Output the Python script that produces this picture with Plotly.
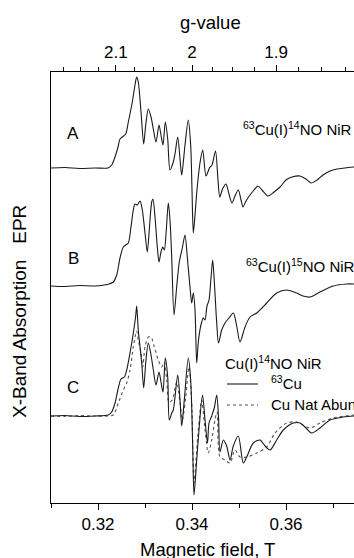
import numpy as np
import plotly.graph_objects as go

# ---------------- data (field in mT, intensity in arbitrary units) ----------------
field_A = [310.0, 313.0, 316.0, 319.36, 322.13, 322.91, 323.62, 324.26, 324.68, 325.17, 325.89,
           326.45, 327.30, 327.87, 328.23, 328.57, 329.15, 329.72, 330.15, 330.70, 331.28,
           331.77, 332.34, 332.98, 333.40, 333.83, 334.32, 334.83, 335.32, 336.02, 336.38,
           336.96, 337.45, 337.81, 338.51, 339.21, 339.72, 340.00, 340.28, 340.64, 341.06,
           341.70, 342.28, 342.98, 343.72, 344.26, 345.00, 345.53, 345.91, 346.49, 347.23,
           347.87, 348.51, 349.15, 349.85, 350.43, 350.85, 351.49, 352.34, 353.19, 354.04,
           354.89, 356.17, 357.45, 358.72, 360.00, 361.28, 362.98, 364.26, 365.32, 366.60,
           367.87, 369.36, 370.85, 372.55, 374.47]
int_A = [0, 0.5, -0.5, 0, 0, 3, 11, 21, 29, 31, 34,
         46, 66, 83, 91, 86, 56, 24, 43, 59, 51,
         39, 26, 43, 33, 23, 46, 29, -2, 6, 14,
         31, 9, -7, 23, 48, 23, -22, -65, -47, -22,
         5, 18, -8, 0, 3, 17, -12, -29, -21, -16,
         -26, -35, -28, -22, -32, -39, -33, -27, -22, -18,
         -22, -28, -24, -19, -12, -9, -8, -11, -15, -12,
         -7, -3, -1, 0, 1]

field_B = [310.0, 313.0, 316.0, 319.36, 322.19, 323.26, 323.98, 324.68, 325.38, 325.89, 326.45,
           327.02, 327.51, 327.87, 328.36, 328.94, 329.43, 330.00, 330.49, 330.91, 331.43,
           331.70, 332.13, 332.62, 332.98, 333.40, 333.77, 334.11, 334.53, 334.96, 335.32,
           335.68, 336.17, 336.74, 337.30, 337.94, 338.51, 339.00, 339.57, 339.94, 340.28,
           340.64, 341.00, 341.38, 342.06, 342.40, 342.77, 343.19, 343.62, 344.04, 344.40,
           344.79, 345.26, 345.64, 346.32, 347.02, 347.87, 348.79, 349.51, 350.21, 351.28,
           352.34, 353.77, 354.89, 355.89, 358.02, 360.15, 362.28, 363.62, 365.11, 367.23,
           370.06, 372.91, 374.47]
int_B = [0, -0.5, 0.5, 0, 1.7, 4, 11, 28, 39, 41, 43,
         59, 76, 82, 81, 85, 76, 53, 34, 56, 84,
         87, 69, 39, 24, 34, 39, 36, 56, 83, 66,
         29, -29, -1, 24, 38, 51, 29, -1, -17, -7,
         -24, -77, -54, -36, -32, -34, -20, -14, 8, 26,
         1, -37, -57, -44, -37, -32, -27, -40, -56, -41,
         -31, -27, -22, -17, -7, -4, -7, -10, -11, -6,
         0, 2, 2]

field_C = [310.0, 313.0, 316.0, 319.36, 322.19, 322.91, 323.62, 324.32, 324.89, 325.60, 326.11,
           326.81, 327.51, 328.02, 328.23, 328.57, 329.30, 329.72, 330.15, 330.70, 331.21,
           331.77, 332.34, 332.98, 333.40, 333.83, 334.32, 334.83, 335.17, 335.68, 336.02,
           336.96, 337.45, 337.81, 338.36, 339.21, 339.72, 340.15, 340.43, 341.00, 341.49,
           342.23, 342.77, 343.30, 343.62, 344.19, 344.74, 345.26, 345.64, 345.96, 346.66,
           347.38, 348.09, 348.79, 349.85, 350.91, 351.64, 353.04, 354.47, 355.53, 356.60,
           358.02, 359.43, 361.55, 362.98, 364.26, 365.47, 367.23, 369.36, 372.19, 374.47]
int_C = [0, 0.5, -0.5, 0, 1, 4, 13, 28, 37, 39, 46,
         63, 83, 100, 110, 86, 53, 28, 53, 73, 63,
         46, 31, 44, 34, 24, 58, 39, -4, 3, 6,
         41, 16, -10, 16, 58, 36, -31, -79, -44, -14,
         21, -4, -27, -7, 0, 8, 21, -1, -36, -24,
         -30, -44, -30, -20, -47, -41, -27, -24, -30, -34,
         -24, -14, -7, -7, -12, -17, -12, -4, -1, 0]

field_C_nat = [310.0, 313.0, 316.0, 319.36, 322.19, 323.26, 324.32, 325.38, 326.11, 326.81, 327.51,
               328.02, 328.23, 328.57, 329.15, 329.51, 330.00, 330.70, 331.28, 331.98, 332.83,
               333.55, 334.11, 334.62, 335.11, 335.81, 336.74, 337.45, 337.94, 338.66, 339.36,
               339.94, 340.43, 341.21, 342.06, 342.77, 343.47, 344.19, 344.89, 345.32, 345.96,
               347.02, 348.09, 349.15, 350.21, 351.64, 353.77, 355.89, 357.66, 360.15, 362.28,
               365.11, 367.23, 370.06, 374.47]
int_C_nat = [0, -0.5, 0.5, 0, 0, 1, 13, 26, 33, 46, 69,
             82, 85, 76, 63, 49, 69, 79, 79, 69, 56,
             49, 54, 36, 14, 16, 34, 14, -4, 19, 49,
             13, -67, -21, 16, -14, -37, -24, -4, 4, -41,
             -44, -47, -34, -41, -41, -37, -31, -17, -7, -6,
             -12, -7, -2, 1]

g_major = [2.1, 2.0, 1.9]
g_major_text = ["2.1", "2", "1.9"]
g_minor = [2.175, 2.15, 2.125, 2.075, 2.05, 2.025, 1.975, 1.95, 1.925, 1.875, 1.85, 1.825]
hnu_over_muB = 0.68  # T  (B = h*nu / (g * muB))

field_major = [0.32, 0.34, 0.36]
field_major_text = ["0.32", "0.34", "0.36"]
field_minor = [0.31, 0.33, 0.35, 0.37]

offset_A, offset_B, offset_C = 335, 217, 87

# ---------------- figure ----------------
FONT = "Liberation Sans, Arial, sans-serif"
xr = [0.31, 0.374468]
yr = [0, 431]

fig = go.Figure()

def add_spec(fx, iy, off, dash="solid", color="#1a1a1a"):
    fig.add_trace(go.Scatter(
        x=np.array(fx) / 1000.0, y=np.array(iy) + off, mode="lines",
        line=dict(color=color, width=1.1, dash=dash, shape="spline", smoothing=0.8),
        showlegend=False, hoverinfo="skip"))

add_spec(field_A, int_A, offset_A)
add_spec(field_B, int_B, offset_B)
add_spec(field_C_nat, int_C_nat, offset_C, dash="dot", color="#555555")
add_spec(field_C, int_C, offset_C)

# invisible trace to carry the g-value axis
fig.add_trace(go.Scatter(x=xr, y=[0, 0], xaxis="x2", mode="markers",
                         marker=dict(opacity=0), showlegend=False, hoverinfo="skip"))

fig.update_layout(
    width=354, height=558,
    margin=dict(l=51, r=0, t=72, b=55),
    paper_bgcolor="white", plot_bgcolor="white",
    font=dict(family=FONT, size=17, color="black"),
    xaxis=dict(range=xr, showgrid=False, zeroline=False, showline=True, linecolor="black",
               linewidth=1, mirror=False, ticks="outside", ticklen=6, tickwidth=1,
               tickcolor="black", tickmode="array", tickvals=field_major,
               ticktext=field_major_text, tickfont=dict(size=17),
               minor=dict(tickmode="array", tickvals=field_minor, ticks="outside",
                          ticklen=4, tickwidth=1, tickcolor="black", showgrid=False)),
    xaxis2=dict(range=xr, overlaying="x", side="top", showgrid=False, zeroline=False,
                showline=True, linecolor="black", linewidth=1, ticks="outside", ticklen=6,
                tickwidth=1, tickcolor="black", tickmode="array",
                tickvals=[hnu_over_muB / g for g in g_major], ticktext=g_major_text,
                tickfont=dict(size=17),
                minor=dict(tickmode="array", tickvals=[hnu_over_muB / g for g in g_minor],
                           ticks="outside", ticklen=4, tickwidth=1, tickcolor="black",
                           showgrid=False)),
    yaxis=dict(range=yr, showgrid=False, zeroline=False, showline=True, linecolor="black",
               linewidth=1, showticklabels=False, ticks=""),
)

def px_x(p):
    return (p - 51) / 303.0

def px_y(p):
    return (503 - p) / 431.0

ann = []
ann.append(dict(text="Magnetic field, T", x=px_x(207), y=px_y(549), xref="paper", yref="paper",
                showarrow=False, font=dict(size=18.5), xanchor="center", yanchor="middle"))
ann.append(dict(text="g-value", x=px_x(210), y=px_y(22), xref="paper", yref="paper",
                showarrow=False, font=dict(size=18.5), xanchor="center", yanchor="middle"))
ann.append(dict(text="X-Band Absorption\u00a0\u00a0\u00a0EPR", x=px_x(19), y=px_y(312),
                xref="paper", yref="paper", showarrow=False, font=dict(size=19),
                textangle=-90, xanchor="center", yanchor="middle"))
for lab, yy in (("A", 133), ("B", 258), ("C", 387)):
    ann.append(dict(text=lab, x=px_x(73), y=px_y(yy), xref="paper", yref="paper",
                    showarrow=False, font=dict(size=17), xanchor="center", yanchor="middle"))
ann.append(dict(text="<sup>63</sup>Cu(I)<sup>14</sup>NO NiR", x=px_x(241), y=px_y(129),
                xref="paper", yref="paper", showarrow=False, font=dict(size=15),
                xanchor="left", yanchor="middle"))
ann.append(dict(text="<sup>63</sup>Cu(I)<sup>15</sup>NO NiR", x=px_x(244), y=px_y(265),
                xref="paper", yref="paper", showarrow=False, font=dict(size=15),
                xanchor="left", yanchor="middle"))
ann.append(dict(text="Cu(I)<sup>14</sup>NO NiR", x=px_x(223), y=px_y(362),
                xref="paper", yref="paper", showarrow=False, font=dict(size=15),
                xanchor="left", yanchor="middle"))
ann.append(dict(text="<sup>63</sup>Cu", x=px_x(269), y=px_y(382),
                xref="paper", yref="paper", showarrow=False, font=dict(size=15),
                xanchor="left", yanchor="middle"))
ann.append(dict(text="Cu Nat Abundance", x=px_x(269), y=px_y(404),
                xref="paper", yref="paper", showarrow=False, font=dict(size=15),
                xanchor="left", yanchor="middle"))
fig.update_layout(annotations=ann)

fig.add_shape(type="line", xref="paper", yref="paper", x0=px_x(227), x1=px_x(258),
              y0=px_y(384), y1=px_y(384), line=dict(color="#1a1a1a", width=1.1))
fig.add_shape(type="line", xref="paper", yref="paper", x0=px_x(227), x1=px_x(258),
              y0=px_y(405), y1=px_y(405), line=dict(color="#555555", width=1.1, dash="dot"))

fig.write_html("out.html", config={"displayModeBar": False},
               post_script="document.body.style.margin='0';document.body.style.overflow='hidden';")
